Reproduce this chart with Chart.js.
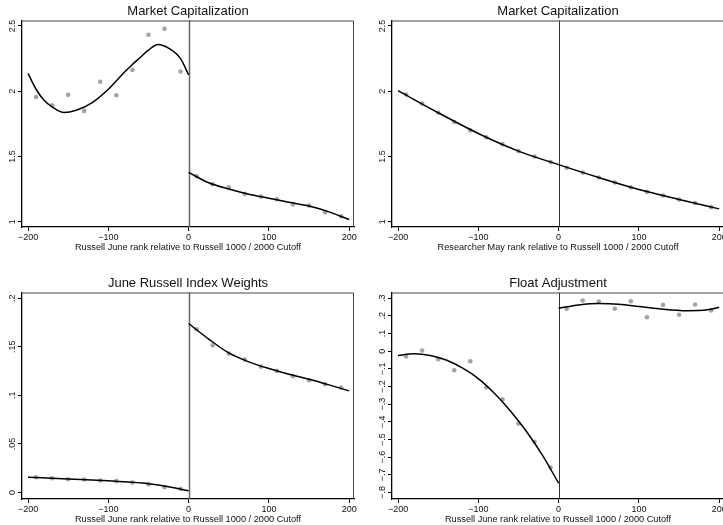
<!DOCTYPE html>
<html>
<head>
<meta charset="utf-8">
<script src="https://cdn.jsdelivr.net/npm/chart.js@4.4.0/dist/chart.umd.min.js"></script>
<style>
  html, body { margin: 0; padding: 0; background: #fff; overflow: hidden; }
  body { width: 723px; height: 525px; position: relative; }
  .cell { position: absolute; width: 362px; height: 262px; }
  canvas { display: block; }
</style>
</head>
<body>
<div class="cell" style="left:0;top:0"><canvas id="mcapJune" width="362" height="262"></canvas></div>
<div class="cell" style="left:370px;top:0"><canvas id="mcapMay" width="362" height="262"></canvas></div>
<div class="cell" style="left:0;top:272px"><canvas id="weights" width="362" height="262"></canvas></div>
<div class="cell" style="left:370px;top:272px"><canvas id="floatAdj" width="362" height="262"></canvas></div>
<script>
// bins (rank relative to cutoff)
const binsLeft = [-190, -170, -150, -130, -110, -90, -70, -50, -30, -10];
const binsRight = [10, 30, 50, 70, 90, 110, 130, 150, 170, 190];
const xTicks = [-200, -100, 0, 100, 200];
const xTickLabels = ["\u2212200", "\u2212100", "0", "100", "200"];

// Market Capitalization, June rank
const mcapJuneLeft = [1.956, 1.892, 1.972, 1.849, 2.072, 1.969, 2.162, 2.433, 2.479, 2.151];
const mcapJuneRight = [1.348, 1.287, 1.264, 1.213, 1.192, 1.172, 1.131, 1.123, 1.072, 1.041];
const mcapJuneFitLeftX = [-200, -190, -180, -170, -155, -140, -120, -100, -90, -80, -70, -60, -50, -38, -25, -10, 0];
const mcapJuneFitLeftY = [2.136, 2.015, 1.93, 1.879, 1.836, 1.854, 1.913, 2.015, 2.08, 2.145, 2.205, 2.26, 2.315, 2.358, 2.33, 2.25, 2.125];
const mcapJuneFitRightX = [0, 25, 50, 75, 100, 125, 150, 175, 200];
const mcapJuneFitRightY = [1.378, 1.298, 1.25, 1.21, 1.18, 1.148, 1.12, 1.075, 1.016];

// Market Capitalization, researcher May rank
const mcapMayLeft = [1.975, 1.905, 1.835, 1.764, 1.70, 1.646, 1.594, 1.541, 1.499, 1.457];
const mcapMayRight = [1.413, 1.376, 1.338, 1.30, 1.264, 1.228, 1.20, 1.17, 1.143, 1.111];
const mcapMayFitX = [-200, -150, -100, -50, 0, 50, 100, 150, 200];
const mcapMayFitY = [2.004, 1.835, 1.676, 1.541, 1.437, 1.338, 1.246, 1.17, 1.098];

// June Russell index weights
const weightsLeft = [0.0157, 0.0147, 0.0137, 0.0134, 0.0123, 0.0117, 0.0103, 0.0086, 0.0055, 0.0038];
const weightsRight = [0.168, 0.1516, 0.143, 0.1368, 0.1296, 0.1252, 0.1197, 0.1156, 0.1115, 0.108];
const weightsFitLeftX = [-200, -150, -100, -75, -50, -25, 0];
const weightsFitLeftY = [0.0158, 0.014, 0.012, 0.0107, 0.009, 0.006, 0.0017];
const weightsFitRightX = [0, 25, 50, 75, 100, 125, 150, 175, 200];
const weightsFitRightY = [0.174, 0.158, 0.1437, 0.1345, 0.1276, 0.1217, 0.1166, 0.1108, 0.1046];

// Float adjustment
const floatLeft = [-0.030, 0.004, -0.045, -0.108, -0.057, -0.204, -0.272, -0.410, -0.513, -0.659];
const floatRight = [0.240, 0.287, 0.281, 0.240, 0.283, 0.192, 0.262, 0.206, 0.264, 0.230];
const floatFitLeftX = [-200, -180, -160, -140, -120, -100, -80, -60, -40, -20, 0];
const floatFitLeftY = [-0.024, -0.015, -0.024, -0.05, -0.095, -0.155, -0.238, -0.338, -0.455, -0.59, -0.747];
const floatFitRightX = [0, 25, 50, 75, 100, 125, 160, 185, 200];
const floatFitRightY = [0.243, 0.262, 0.270, 0.266, 0.253, 0.240, 0.229, 0.234, 0.249];

const FONT = "'Liberation Sans', Arial, Helvetica, sans-serif";
const pts = (xs, ys) => xs.map((x, i) => ({ x: x, y: ys[i] }));

const stataPlugin = {
  id: "stata",
  beforeDatasetsDraw(chart) {
    const { ctx, chartArea: a, scales } = chart;
    const x0 = Math.round(scales.x.getPixelForValue(0)) + 0.5;
    ctx.save();
    ctx.strokeStyle = chart.options.plugins.stata.zeroColor;
    ctx.lineWidth = chart.options.plugins.stata.zeroWidth;
    ctx.beginPath();
    ctx.moveTo(x0, a.top);
    ctx.lineTo(x0, a.bottom);
    ctx.stroke();
    ctx.restore();
  },
  afterDraw(chart) {
    const { ctx, chartArea: a, scales } = chart;
    const o = chart.options.plugins.stata;
    ctx.save();
    // plot region outline (top/right)
    ctx.strokeStyle = "#444";
    ctx.lineWidth = 1;
    ctx.beginPath();
    ctx.moveTo(a.left, a.top + 0.5);
    ctx.lineTo(a.right - 0.5, a.top + 0.5);
    ctx.lineTo(a.right - 0.5, a.bottom);
    ctx.stroke();
    // rotated y labels
    ctx.fillStyle = "#111";
    ctx.font = "9px " + FONT;
    ctx.textAlign = "center";
    ctx.textBaseline = "middle";
    o.yTicks.forEach((v, i) => {
      const y = scales.y.getPixelForValue(v);
      ctx.save();
      ctx.translate(a.left - 9.4, y);
      ctx.rotate(-Math.PI / 2);
      ctx.fillText(o.yLabels[i], 0, 0);
      ctx.restore();
    });
    ctx.restore();
  }
};

function makePanel(id, p) {
  const datasets = [];
  p.dots.forEach((d) => {
    datasets.push({
      data: d,
      showLine: false,
      pointRadius: 2.3,
      pointBackgroundColor: "#a3a3a3",
      pointBorderWidth: 0,
      order: 2
    });
  });
  p.fits.forEach((f) => {
    datasets.push({
      data: f,
      showLine: true,
      borderColor: "#000",
      borderWidth: 1.5,
      pointRadius: 0,
      cubicInterpolationMode: "monotone",
      order: 1
    });
  });

  return new Chart(document.getElementById(id), {
    type: "scatter",
    data: { datasets: datasets },
    plugins: [stataPlugin],
    options: {
      responsive: false,
      animation: false,
      devicePixelRatio: 1,
      layout: { padding: { left: 0, right: 8, top: 0, bottom: 0 } },
      plugins: {
        legend: { display: false },
        tooltip: { enabled: false },
        title: {
          display: true,
          text: p.title,
          fullSize: false,
          color: "#111",
          font: { family: FONT, size: 13, weight: "normal" },
          padding: { top: 3.6, bottom: 1.3 }
        },
        stata: { yTicks: p.yTicks, yLabels: p.yLabels, zeroColor: p.zeroColor, zeroWidth: p.zeroWidth }
      },
      scales: {
        x: {
          type: "linear",
          min: -207.5,
          max: 206,
          afterBuildTicks: (s) => { s.ticks = xTicks.map((v) => ({ value: v })); },
          afterFit: (s) => { s.height = 35; s.paddingLeft = 0; s.paddingRight = 0; },
          ticks: {
            callback: (v, i) => xTickLabels[i],
            autoSkip: false,
            maxRotation: 0,
            padding: 1,
            color: "#111",
            font: { family: FONT, size: 9 }
          },
          grid: { drawOnChartArea: false, drawTicks: true, tickLength: 4, color: "#000", lineWidth: 1 },
          border: { display: true, color: "#000", width: 1.3 },
          title: {
            display: true,
            text: p.xTitle,
            color: "#111",
            font: { family: FONT, size: 9.2 },
            padding: { top: 0, bottom: 9.5 }
          }
        },
        y: {
          type: "linear",
          min: p.yMin,
          max: p.yMax,
          afterBuildTicks: (s) => { s.ticks = p.yTicks.map((v) => ({ value: v })); },
          afterFit: (s) => { s.width = 22; s.paddingTop = 0; s.paddingBottom = 0; },
          ticks: { display: false },
          grid: { drawOnChartArea: false, drawTicks: true, tickLength: 4, color: "#000", lineWidth: 1 },
          border: { display: true, color: "#000", width: 1.3 }
        }
      }
    }
  });
}

const xTitleJune = "Russell June rank relative to Russell 1000 / 2000 Cutoff";
const xTitleMay = "Researcher May rank relative to Russell 1000 / 2000 Cutoff";

makePanel("mcapJune", {
  title: "Market Capitalization",
  xTitle: xTitleJune,
  yMin: 0.959, yMax: 2.542,
  yTicks: [1, 1.5, 2, 2.5], yLabels: ["1", "1.5", "2", "2.5"],
  zeroColor: "#666", zeroWidth: 1.5,
  dots: [pts(binsLeft, mcapJuneLeft), pts(binsRight, mcapJuneRight)],
  fits: [pts(mcapJuneFitLeftX, mcapJuneFitLeftY), pts(mcapJuneFitRightX, mcapJuneFitRightY)]
});

makePanel("mcapMay", {
  title: "Market Capitalization",
  xTitle: xTitleMay,
  yMin: 0.959, yMax: 2.542,
  yTicks: [1, 1.5, 2, 2.5], yLabels: ["1", "1.5", "2", "2.5"],
  zeroColor: "#333", zeroWidth: 1,
  dots: [pts(binsLeft, mcapMayLeft), pts(binsRight, mcapMayRight)],
  fits: [pts(mcapMayFitX, mcapMayFitY)]
});

makePanel("weights", {
  title: "June Russell Index Weights",
  xTitle: xTitleJune,
  yMin: -0.0067, yMax: 0.2059,
  yTicks: [0, 0.05, 0.1, 0.15, 0.2], yLabels: ["0", ".05", ".1", ".15", ".2"],
  zeroColor: "#666", zeroWidth: 1.5,
  dots: [pts(binsLeft, weightsLeft), pts(binsRight, weightsRight)],
  fits: [pts(weightsFitLeftX, weightsFitLeftY), pts(weightsFitRightX, weightsFitRightY)]
});

makePanel("floatAdj", {
  title: "Float Adjustment",
  xTitle: xTitleJune,
  yMin: -0.8368, yMax: 0.3323,
  yTicks: [-0.8, -0.7, -0.6, -0.5, -0.4, -0.3, -0.2, -0.1, 0, 0.1, 0.2, 0.3],
  yLabels: ["\u2212.8", "\u2212.7", "\u2212.6", "\u2212.5", "\u2212.4", "\u2212.3", "\u2212.2", "\u2212.1", "0", ".1", ".2", ".3"],
  zeroColor: "#333", zeroWidth: 1,
  dots: [pts(binsLeft, floatLeft), pts(binsRight, floatRight)],
  fits: [pts(floatFitLeftX, floatFitLeftY), pts(floatFitRightX, floatFitRightY)]
});
</script>
</body>
</html>
